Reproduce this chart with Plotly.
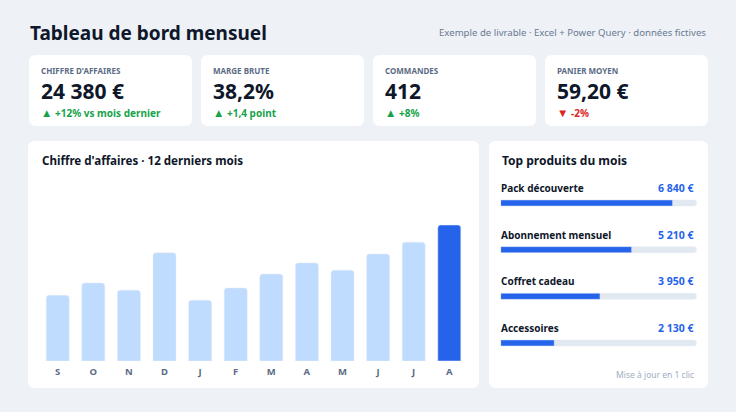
import plotly.graph_objects as go

W, H = 736, 412

# KPI cards
kpi_labels = ["CHIFFRE D'AFFAIRES", "MARGE BRUTE", "COMMANDES", "PANIER MOYEN"]
kpi_values = ["24 380 €", "38,2%", "412", "59,20 €"]
kpi_deltas = ["+12% vs mois dernier", "+1,4 point", "+8%", "-2%"]
kpi_up = [True, True, True, False]

# monthly revenue, k€ (last 12 months)
months = ["S", "O", "N", "D", "J", "F", "M", "A", "M", "J", "J", "A"]
revenue = [11.8, 14.0, 12.7, 19.4, 10.9, 13.1, 15.6, 17.6, 16.3, 19.2, 21.3, 24.4]

# top products
products = ["Pack découverte", "Abonnement mensuel", "Coffret cadeau", "Accessoires"]
product_sales = [6840, 5210, 3950, 2130]
scale_max = 7800

FONT = "Noto Sans"
DARK = "#0f172a"
GREY = "#5b6b85"
BLUE = "#2563eb"
LIGHT = "#bfdbfe"
BG = "#eef1f6"


def px(x):
    return x / W


def py(y):
    return 1 - y / H


def card(x0, y0, x1, y1, r=7):
    # rounded rectangle in paper coords, given in pixels
    rx, ry = r / W, r / H
    X0, X1, Y0, Y1 = px(x0), px(x1), py(y1), py(y0)
    path = (f"M{X0+rx},{Y0} L{X1-rx},{Y0} Q{X1},{Y0} {X1},{Y0+ry} "
            f"L{X1},{Y1-ry} Q{X1},{Y1} {X1-rx},{Y1} L{X0+rx},{Y1} "
            f"Q{X0},{Y1} {X0},{Y1-ry} L{X0},{Y0+ry} Q{X0},{Y0} {X0+rx},{Y0} Z")
    return dict(type="path", path=path, xref="paper", yref="paper",
                fillcolor="white", line=dict(width=0), layer="below")


def fmt_eur(v):
    return f"{v:,}".replace(",", " ") + " €"


fig = go.Figure()

bar_colors = [LIGHT] * (len(revenue) - 1) + [BLUE]
fig.add_trace(go.Bar(x=list(range(len(months))), y=revenue, marker_color=bar_colors,
                     marker_cornerradius=3, hoverinfo="skip", xaxis="x", yaxis="y"))

ypos = list(range(len(products)))
fig.add_trace(go.Bar(x=[scale_max] * len(products), y=ypos, orientation="h", width=0.13,
                     marker_color="#e2e8f0", marker_cornerradius=3, hoverinfo="skip",
                     xaxis="x2", yaxis="y2"))
fig.add_trace(go.Bar(x=product_sales, y=ypos, orientation="h", width=0.13,
                     marker_color=BLUE, marker_cornerradius=3, hoverinfo="skip",
                     xaxis="x2", yaxis="y2"))

shapes = []
ann = []

# header
ann.append(dict(text="<b>Tableau de bord mensuel</b>", x=px(28), y=py(33), xanchor="left",
                yanchor="middle", font=dict(size=19, color=DARK)))
ann.append(dict(text="Exemple de livrable · Excel + Power Query · données fictives",
                x=px(708), y=py(33), xanchor="right", yanchor="middle",
                font=dict(size=9.6, color="#6b7a92")))

# KPI cards
card_x = [29, 201, 373, 545]
for i, cx in enumerate(card_x):
    shapes.append(card(cx, 55, cx + 163, 126))
    ann.append(dict(text=f"<b>{kpi_labels[i]}</b>", x=px(cx + 10), y=py(70), xanchor="left",
                    yanchor="middle", font=dict(size=8, color=GREY)))
    ann.append(dict(text=f"<b>{kpi_values[i]}</b>", x=px(cx + 10), y=py(90.5), xanchor="left",
                    yanchor="middle", font=dict(size=21, color=DARK)))
    col = "#16a34a" if kpi_up[i] else "#dc2626"
    arrow = "▲" if kpi_up[i] else "▼"
    ann.append(dict(text=f"<span style='font-size:11.5px'>{arrow}</span> <b>{kpi_deltas[i]}</b>",
                    x=px(cx + 10), y=py(112.5), xanchor="left", yanchor="middle",
                    font=dict(size=10, color=col)))

# chart cards
shapes.append(card(28, 141, 479, 388))
shapes.append(card(489, 141, 708, 388))
ann.append(dict(text="<b>Chiffre d'affaires · 12 derniers mois</b>", x=px(40), y=py(161),
                xanchor="left", yanchor="middle", font=dict(size=11.6, color=DARK)))
ann.append(dict(text="<b>Top produits du mois</b>", x=px(500), y=py(161),
                xanchor="left", yanchor="middle", font=dict(size=12, color=DARK)))

for i, (name, val) in enumerate(zip(products, product_sales)):
    ann.append(dict(text=f"<b>{name}</b>", x=px(499), y=i, xref="paper", yref="y2",
                    yshift=15, xanchor="left", yanchor="middle",
                    font=dict(size=10, color=DARK)))
    ann.append(dict(text=f"<b>{fmt_eur(val)}</b>", x=px(696), y=i, xref="paper", yref="y2",
                    yshift=15, xanchor="right", yanchor="middle",
                    font=dict(size=10.5, color=BLUE)))

ann.append(dict(text="Mise à jour en 1 clic", x=px(696), y=py(374), xanchor="right",
                yanchor="middle", font=dict(size=8.5, color="#a0aec0")))

for a in ann:
    a.setdefault("xref", "paper")
    a.setdefault("yref", "paper")
    a["showarrow"] = False

fig.update_layout(
    width=W, height=H,
    margin=dict(l=0, r=0, t=0, b=0),
    paper_bgcolor=BG, plot_bgcolor="rgba(0,0,0,0)",
    font=dict(family=FONT),
    showlegend=False,
    barmode="overlay",
    bargap=0.354,
    shapes=shapes,
    annotations=ann,
    xaxis=dict(domain=[px(39.9), px(467.1)], range=[-0.5, 11.5], tickvals=list(range(12)),
               ticktext=[f"<b>{m}</b>" for m in months], tickfont=dict(size=9.5, color=GREY),
               ticklabelstandoff=3, showgrid=False, zeroline=False, showline=False, ticks="",
               fixedrange=True),
    yaxis=dict(domain=[py(361), py(180)], range=[0, 24.4 * 181 / 136], visible=False,
               fixedrange=True),
    xaxis2=dict(domain=[px(500.7), px(696.7)], range=[0, scale_max], visible=False,
                anchor="y2", fixedrange=True),
    yaxis2=dict(domain=[py(366.3), py(179.7)], range=[3.5, -0.5], visible=False,
                anchor="x2", fixedrange=True),
)

fig.write_html("out.html", config={"displayModeBar": False},
               post_script=f"document.body.style.margin='0';document.body.style.background='{BG}';")
